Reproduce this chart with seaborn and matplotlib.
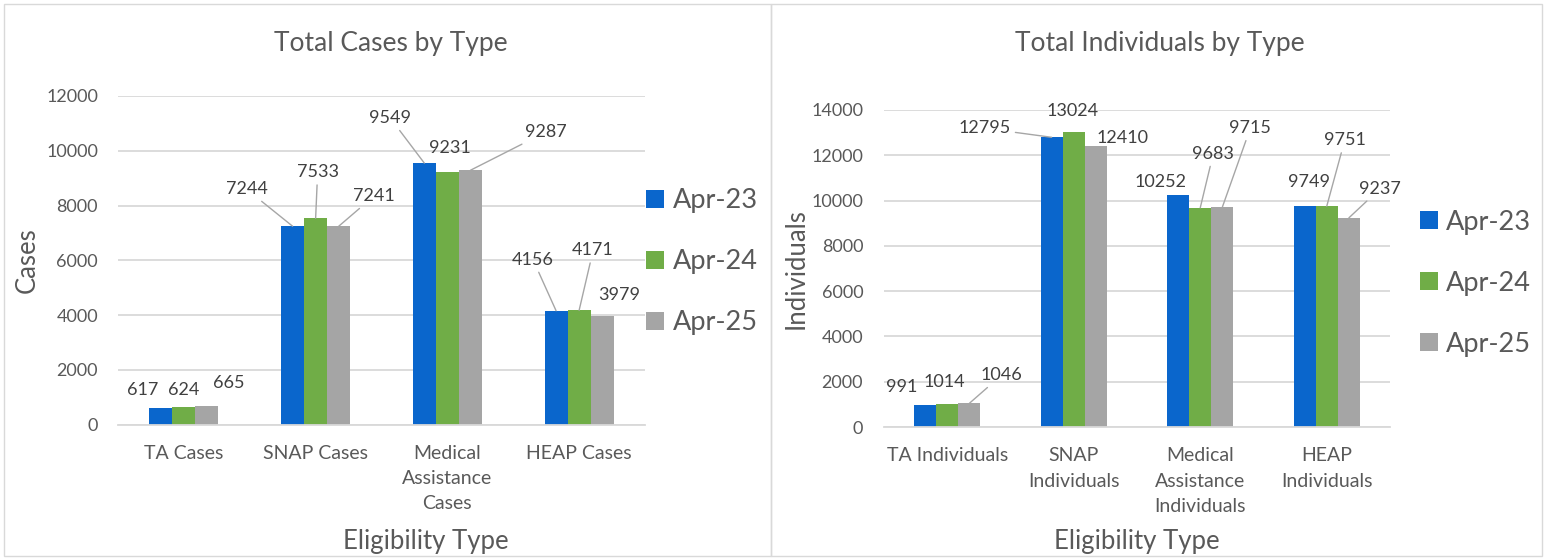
import numpy as np
import pandas as pd
import matplotlib
matplotlib.use("Agg")
import matplotlib.pyplot as plt
from matplotlib.patches import Rectangle
import seaborn as sns

# data
periods = ["Apr-23", "Apr-24", "Apr-25"]

case_types = ["TA Cases", "SNAP Cases", "Medical\nAssistance\nCases", "HEAP Cases"]
cases_apr23 = [617, 7244, 9549, 4156]
cases_apr24 = [624, 7533, 9231, 4171]
cases_apr25 = [665, 7241, 9287, 3979]

indiv_types = ["TA Individuals", "SNAP\nIndividuals", "Medical\nAssistance\nIndividuals", "HEAP\nIndividuals"]
indiv_apr23 = [991, 12795, 10252, 9749]
indiv_apr24 = [1014, 13024, 9683, 9751]
indiv_apr25 = [1046, 12410, 9715, 9237]

colors = ["#0A66CC", "#70AD47", "#A5A5A5"]

# label placement: (dx, dy) pixels from bar top, leader line yes/no
cases_offsets = [
    [(-18, 18, False), (-46, 37, True), (-34, 45, True), (-23, 51, True)],
    [(0, 17, False), (2, 46, True), (3, 24, False), (14, 60, True)],
    [(22, 23, False), (35, 30, True), (75, 38, True), (17, 21, False)],
]
indiv_offsets = [
    [(-23, 18, False), (-67, 9, True), (-18, 13, False), (4, 24, False)],
    [(-3, 22, False), (-1, 21, False), (13, 54, True), (18, 66, True)],
    [(32, 28, True), (27, 8, False), (28, 79, True), (31, 29, True)],
]

W, H = 1548, 559
TXT = "#595959"
GRID = "#D9D9D9"

sns.set_theme(style="white")
plt.rcParams["font.family"] = ["Lato", "DejaVu Sans"]


def long_df(types, a, b, c):
    return pd.DataFrame({
        "type": types * 3,
        "period": np.repeat(periods, len(types)),
        "value": a + b + c,
    })


def draw_panel(ax, df, ymax, ylabel, offsets, xlab_x, xlab_y, leg_x, leg_y, ypad):
    sns.barplot(data=df, x="type", y="value", hue="period", palette=colors,
                width=0.525, linewidth=0, saturation=1, ax=ax)
    ax.set_ylim(0, ymax)
    ax.set_yticks(range(0, ymax + 1, 2000))
    ax.set_axisbelow(True)
    ax.yaxis.grid(True, color=GRID, lw=1.3)
    for s in ["top", "right", "left"]:
        ax.spines[s].set_visible(False)
    ax.spines["bottom"].set_color(GRID)
    ax.spines["bottom"].set_linewidth(1.3)
    ax.tick_params(axis="y", length=0, pad=ypad, labelsize=13, labelcolor=TXT)
    ax.tick_params(axis="x", length=0, pad=14.5, labelsize=14, labelcolor=TXT)
    for t in ax.get_xticklabels():
        t.set_linespacing(1.6)

    ax.set_xlabel("Eligibility Type", fontsize=18.5, color=TXT)
    ax.xaxis.set_label_coords(xlab_x, xlab_y)
    ax.xaxis.label.set_va("center")
    ax.set_ylabel(ylabel, fontsize=18.5, color=TXT)
    ax.yaxis.set_label_coords(-0.173, 0.5)
    ax.yaxis.label.set_va("center")

    for container, offs in zip(ax.containers, offsets):
        for bar, (dx, dy, lead) in zip(container, offs):
            x = bar.get_x() + bar.get_width() / 2
            y = bar.get_height()
            arrow = dict(arrowstyle="-", color="#A6A6A6", lw=1, shrinkA=1, shrinkB=0) if lead else None
            ax.annotate(f"{y:.0f}", (x, y), xytext=(dx, dy), textcoords="offset pixels",
                        ha="center", va="center", fontsize=13, color="#404040",
                        arrowprops=arrow)

    handles, labels = ax.get_legend_handles_labels()
    ax.legend(handles, labels, loc="center left", bbox_to_anchor=(leg_x, leg_y),
              frameon=False, fontsize=19.5, labelcolor=TXT, borderpad=0, borderaxespad=0,
              handlelength=0.68, handleheight=0.68, handletextpad=0.3, labelspacing=1.33)


fig = plt.figure(figsize=(W / 100, H / 100), dpi=100)

ax1 = fig.add_axes([118 / W, 1 - 424.5 / H, 527 / W, 328.5 / H])
draw_panel(ax1, long_df(case_types, cases_apr23, cases_apr24, cases_apr25), 12000, "Cases",
           cases_offsets, 0.5835, -0.355, 1.002, 0.495, 14.4)

ax2 = fig.add_axes([884 / W, 1 - 427 / H, 506 / W, 317 / H])
draw_panel(ax2, long_df(indiv_types, indiv_apr23, indiv_apr24, indiv_apr25), 14000, "Individuals",
           indiv_offsets, 0.5, -0.36, 1.059, 0.454, 15)

fig.text(391 / W, 1 - 43 / H, "Total Cases by Type", ha="center", va="center", fontsize=19, color=TXT)
fig.text(1160 / W, 1 - 43 / H, "Total Individuals by Type", ha="center", va="center", fontsize=19, color=TXT)

# chart area borders
fig.add_artist(Rectangle((4 / W, 1 - 556 / H), 767 / W, 552 / H, transform=fig.transFigure,
                         fill=False, edgecolor=GRID, lw=1))
fig.add_artist(Rectangle((771 / W, 1 - 556 / H), 771 / W, 552 / H, transform=fig.transFigure,
                         fill=False, edgecolor=GRID, lw=1))

fig.savefig("out.png", dpi=100)
